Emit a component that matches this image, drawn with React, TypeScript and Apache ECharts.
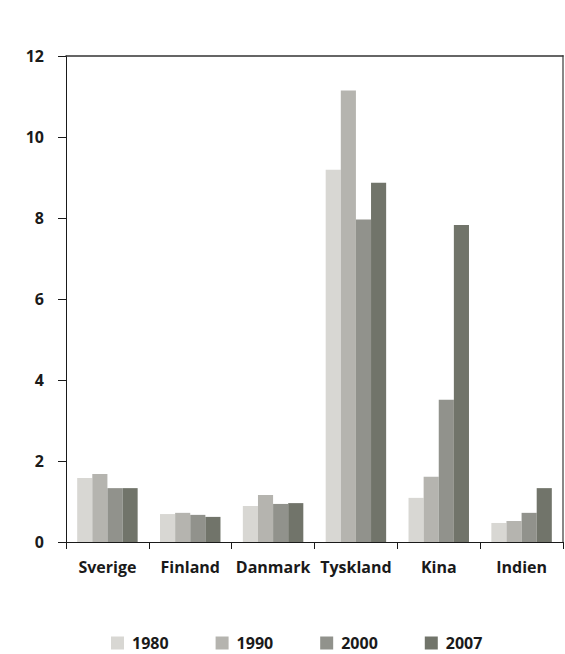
import React, { useEffect, useRef } from "react";
import * as echarts from "echarts";

const categories = ["Sverige", "Finland", "Danmark", "Tyskland", "Kina", "Indien"];
const years = ["1980", "1990", "2000", "2007"];
const v1980 = [1.58, 0.69, 0.89, 9.19, 1.09, 0.47];
const v1990 = [1.68, 0.72, 1.16, 11.15, 1.61, 0.52];
const v2000 = [1.33, 0.67, 0.94, 7.96, 3.51, 0.72];
const v2007 = [1.33, 0.62, 0.96, 8.87, 7.83, 1.33];
const colors = ["#d8d7d3", "#b5b4af", "#91928c", "#71746a"];

const FONT = "'Open Sans', 'Noto Sans', sans-serif";

export default function App() {
  const ref = useRef<HTMLDivElement>(null);
  useEffect(() => {
    if (!ref.current) return;
    const chart = echarts.init(ref.current, undefined, { renderer: "svg" });
    const seriesData = [v1980, v1990, v2000, v2007];
    chart.setOption({
      animation: false,
      backgroundColor: "#ffffff",
      textStyle: { fontFamily: FONT },
      grid: { left: 66, right: 2, top: 56, bottom: 112, containLabel: false },
      legend: {
        data: years,
        left: 111,
        top: 635,
        padding: 0,
        itemWidth: 13,
        itemHeight: 13,
        itemGap: 47,
        icon: "rect",
        textStyle: {
          fontFamily: FONT,
          fontWeight: "bold",
          fontSize: 16,
          lineHeight: 16,
          color: "#1a1a1a",
          padding: [0, 0, 0, 3],
        },
      },
      xAxis: [
        {
          type: "category",
          data: categories,
          position: "bottom",
          axisLine: { show: true, lineStyle: { color: "#1a1a1a", width: 1 } },
          axisTick: { show: true, length: 7, interval: 0, lineStyle: { color: "#1a1a1a" } },
          axisLabel: {
            margin: 17,
            interval: 0,
            fontFamily: FONT,
            fontWeight: "bold",
            fontSize: 16,
            color: "#1a1a1a",
          },
          splitLine: { show: false },
        },
        {
          type: "category",
          data: categories,
          position: "top",
          axisLine: { show: true, onZero: false, lineStyle: { color: "#333333", width: 1.5 } },
          axisTick: { show: false },
          axisLabel: { show: false },
          splitLine: { show: false },
        },
      ],
      yAxis: [
        {
          type: "value",
          min: 0,
          max: 12,
          interval: 2,
          position: "left",
          axisLine: { show: true, lineStyle: { color: "#1a1a1a", width: 1 } },
          axisTick: { show: true, length: 8, lineStyle: { color: "#1a1a1a" } },
          axisLabel: {
            margin: 22,
            fontFamily: FONT,
            fontWeight: "bold",
            fontSize: 16,
            color: "#1a1a1a",
          },
          splitLine: { show: false },
        },
        {
          type: "value",
          min: 0,
          max: 12,
          interval: 2,
          position: "right",
          axisLine: { show: true, onZero: false, lineStyle: { color: "#888888", width: 2 } },
          axisTick: { show: false },
          axisLabel: { show: false },
          splitLine: { show: false },
        },
      ],
      series: years.map((y, i) => ({
        name: y,
        type: "bar",
        data: seriesData[i],
        xAxisIndex: 0,
        yAxisIndex: 0,
        barGap: "0%",
        barCategoryGap: "27%",
        itemStyle: { color: colors[i] },
      })),
    });
    return () => chart.dispose();
  }, []);
  return <div ref={ref} style={{ width: 565, height: 654, position: "absolute", left: 0, top: 0 }} />;
}
